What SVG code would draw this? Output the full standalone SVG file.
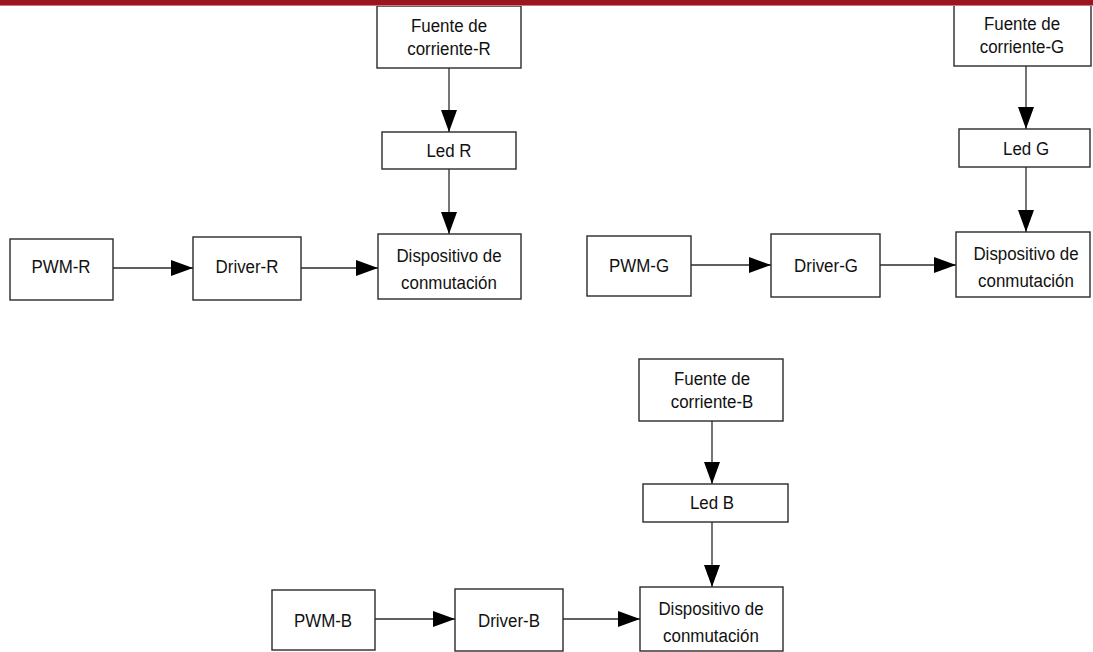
<svg xmlns="http://www.w3.org/2000/svg" width="1093" height="652" viewBox="0 0 1093 652">
<style>
.box{fill:#fff;stroke:#2a2a2a;stroke-width:1.4}
.lbl{font-family:"Liberation Sans",Arial,sans-serif;font-size:19px;fill:#111;text-anchor:middle}
.wire{stroke:#2a2a2a;stroke-width:1.3;fill:none;marker-end:url(#ah)}
</style>
<defs>
<marker id="ah" markerUnits="userSpaceOnUse" markerWidth="22" markerHeight="16" refX="22" refY="8" orient="auto">
<path d="M0,0 L22,8 L0,16 Z" fill="#000"/>
</marker>
</defs>
<rect x="0" y="0" width="1093" height="652" fill="#fff"/>

<g id="connectors">
<line class="wire" x1="449" y1="68" x2="449" y2="132"/>
<line class="wire" x1="449" y1="169" x2="449" y2="234"/>
<line class="wire" x1="113" y1="268" x2="193" y2="268"/>
<line class="wire" x1="301" y1="268" x2="378" y2="268"/>

<line class="wire" x1="1026" y1="66" x2="1026" y2="129"/>
<line class="wire" x1="1026" y1="167" x2="1026" y2="232"/>
<line class="wire" x1="691" y1="265" x2="771" y2="265"/>
<line class="wire" x1="880" y1="265" x2="956" y2="265"/>

<line class="wire" x1="712" y1="421" x2="712" y2="484"/>
<line class="wire" x1="712" y1="522" x2="712" y2="587"/>
<line class="wire" x1="375" y1="619" x2="455" y2="619"/>
<line class="wire" x1="563" y1="619" x2="640" y2="619"/>
</g>

<g id="fuente-r">
<rect class="box" x="377" y="6" width="144" height="62"/>
<text class="lbl" transform="translate(449,31.5) scale(0.89,1)">Fuente de</text>
<text class="lbl" transform="translate(449,55) scale(0.89,1)">corriente-R</text>
</g>
<g id="led-r">
<rect class="box" x="382" y="132" width="134" height="37"/>
<text class="lbl" transform="translate(449,157) scale(0.89,1)">Led R</text>
</g>
<g id="disp-r">
<rect class="box" x="378" y="234" width="143" height="65"/>
<text class="lbl" transform="translate(449,262) scale(0.89,1)">Dispositivo de</text>
<text class="lbl" transform="translate(449,289) scale(0.89,1)">conmutación</text>
</g>
<g id="pwm-r">
<rect class="box" x="10" y="239" width="103" height="61"/>
<text class="lbl" transform="translate(61,273) scale(0.89,1)">PWM-R</text>
</g>
<g id="driver-r">
<rect class="box" x="193" y="237" width="108" height="63"/>
<text class="lbl" transform="translate(247,273) scale(0.89,1)">Driver-R</text>
</g>

<g id="fuente-g">
<rect class="box" x="954" y="5" width="137" height="61"/>
<text class="lbl" transform="translate(1022,30) scale(0.89,1)">Fuente de</text>
<text class="lbl" transform="translate(1022,53) scale(0.89,1)">corriente-G</text>
</g>
<g id="led-g">
<rect class="box" x="959" y="129" width="131" height="38"/>
<text class="lbl" transform="translate(1026,155) scale(0.89,1)">Led G</text>
</g>
<g id="disp-g">
<rect class="box" x="956" y="232" width="134" height="65"/>
<text class="lbl" transform="translate(1026,260) scale(0.89,1)">Dispositivo de</text>
<text class="lbl" transform="translate(1026,287) scale(0.89,1)">conmutación</text>
</g>
<g id="pwm-g">
<rect class="box" x="587" y="236" width="104" height="60"/>
<text class="lbl" transform="translate(639,272) scale(0.89,1)">PWM-G</text>
</g>
<g id="driver-g">
<rect class="box" x="771" y="234" width="109" height="63"/>
<text class="lbl" transform="translate(826,272) scale(0.89,1)">Driver-G</text>
</g>

<g id="fuente-b">
<rect class="box" x="639" y="359" width="144" height="62"/>
<text class="lbl" transform="translate(712,385) scale(0.89,1)">Fuente de</text>
<text class="lbl" transform="translate(712,408) scale(0.89,1)">corriente-B</text>
</g>
<g id="led-b">
<rect class="box" x="643" y="484" width="145" height="38"/>
<text class="lbl" transform="translate(712,509) scale(0.89,1)">Led B</text>
</g>
<g id="disp-b">
<rect class="box" x="640" y="587" width="143" height="64"/>
<text class="lbl" transform="translate(711,615) scale(0.89,1)">Dispositivo de</text>
<text class="lbl" transform="translate(711,642) scale(0.89,1)">conmutación</text>
</g>
<g id="pwm-b">
<rect class="box" x="272" y="590" width="103" height="60"/>
<text class="lbl" transform="translate(323,627) scale(0.89,1)">PWM-B</text>
</g>
<g id="driver-b">
<rect class="box" x="455" y="589" width="108" height="62"/>
<text class="lbl" transform="translate(509,627) scale(0.89,1)">Driver-B</text>
</g>

<g id="top-bar">
<rect x="0" y="0" width="1093" height="5" fill="#9b1520"/>
<rect x="0" y="5" width="1093" height="1" fill="#d0767b"/>
</g>
</svg>
